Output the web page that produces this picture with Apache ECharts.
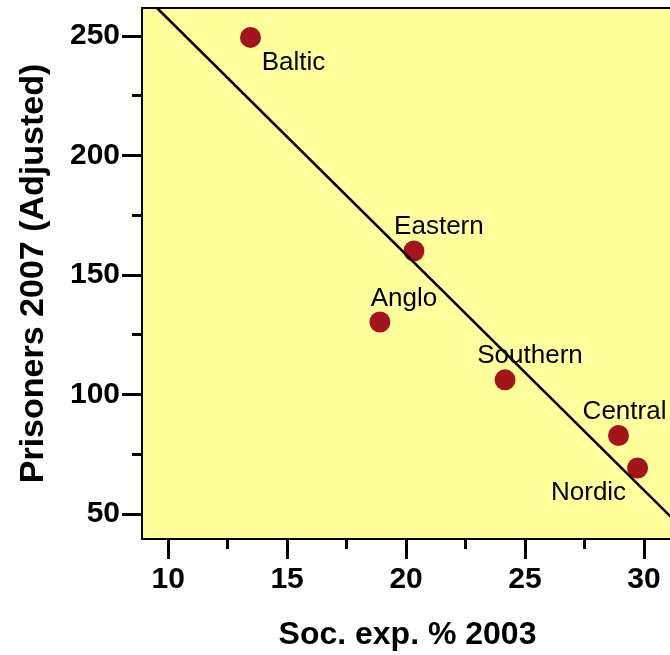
<!DOCTYPE html>
<html>
<head>
<meta charset="utf-8">
<script src="https://cdn.jsdelivr.net/npm/echarts@6/dist/echarts.min.js"></script>
<style>
  html, body { margin: 0; padding: 0; background: #fff; }
  #chart { width: 670px; height: 655px; }
</style>
</head>
<body>
<div id="chart"></div>
<script>
// regions, social expenditure vs prisoners
const regions = ['Baltic', 'Eastern', 'Anglo', 'Southern', 'Central', 'Nordic']
const socExp = [13.46, 20.33, 18.9, 24.16, 28.93, 29.73]
const prisoners = [249.4, 160, 130.3, 106.1, 82.8, 69.2]

// fitted line end points
const fitX = [9.53, 31.22]
const fitY = [261.7, 47.9]

const xTicks = [10, 15, 20, 25, 30]
const xMinorTicks = [12.5, 17.5, 22.5, 27.5]
const yTicks = [50, 100, 150, 200, 250]
const yMinorTicks = [75, 125, 175, 225]

// label placement (px offsets from the dot)
const labelOffsets = [[43, 25], [25, -24], [24, -23], [25, -24], [6, -24], [-49, 25]]

const FONT = '"Liberation Sans", Arial, sans-serif'

const chart = echarts.init(document.getElementById('chart'))

const baseX = { type: 'value', min: 8.9, max: 31.22, splitLine: { show: false } }
const baseY = { type: 'value', min: 39.5, max: 261.7, splitLine: { show: false } }

const option = {
  animation: false,
  grid: {
    left: 142, top: 8, right: -3, bottom: 116,
    outerBoundsMode: 'none',
    containLabel: false,
    show: true,
    backgroundColor: '#ffff9c',
    borderColor: '#000',
    borderWidth: 2
  },
  xAxis: [
    {
      ...baseX,
      position: 'bottom',
      axisLine: { show: true, lineStyle: { color: '#000', width: 2 } },
      axisTick: { show: true, customValues: xTicks, length: 20, lineStyle: { color: '#000', width: 3 } },
      axisLabel: {
        customValues: xTicks, color: '#000', fontSize: 30, fontWeight: 'bold',
        fontFamily: FONT, margin: 26
      },
      name: 'Soc. exp. % 2003',
      nameLocation: 'middle',
      nameGap: 80,
      nameTextStyle: { color: '#000', fontSize: 32, fontWeight: 'bold', fontFamily: FONT }
    },
    {
      ...baseX,
      position: 'bottom',
      axisLine: { show: false },
      axisTick: { show: true, customValues: xMinorTicks, length: 10, lineStyle: { color: '#000', width: 3 } },
      axisLabel: { show: false }
    }
  ],
  yAxis: [
    {
      ...baseY,
      position: 'left',
      axisLine: { show: true, lineStyle: { color: '#000', width: 2 } },
      axisTick: { show: true, customValues: yTicks, length: 20, lineStyle: { color: '#000', width: 3 } },
      axisLabel: {
        customValues: yTicks, color: '#000', fontSize: 30, fontWeight: 'bold',
        fontFamily: FONT, margin: 22
      },
      name: 'Prisoners 2007 (Adjusted)',
      nameLocation: 'middle',
      nameRotate: 90,
      nameGap: 91,
      nameTextStyle: { color: '#000', fontSize: 34, fontWeight: 'bold', fontFamily: FONT }
    },
    {
      ...baseY,
      position: 'left',
      axisLine: { show: false },
      axisTick: { show: true, customValues: yMinorTicks, length: 10, lineStyle: { color: '#000', width: 3 } },
      axisLabel: { show: false }
    }
  ],
  series: [
    {
      type: 'scatter',
      symbolSize: 21,
      itemStyle: { color: '#a3141b', opacity: 1 },
      data: regions.map((name, i) => ({
        name: name,
        value: [socExp[i], prisoners[i]],
        label: {
          show: true,
          position: 'inside',
          offset: labelOffsets[i],
          formatter: name,
          color: '#000',
          opacity: 1,
          fontSize: 26,
          fontFamily: FONT
        }
      })),
      z: 2
    },
    {
      type: 'line',
      data: fitX.map((x, i) => [x, fitY[i]]),
      symbol: 'none',
      clip: true,
      lineStyle: { color: '#000', width: 2.5 },
      z: 3
    }
  ]
}

chart.setOption(option)
</script>
</body>
</html>
